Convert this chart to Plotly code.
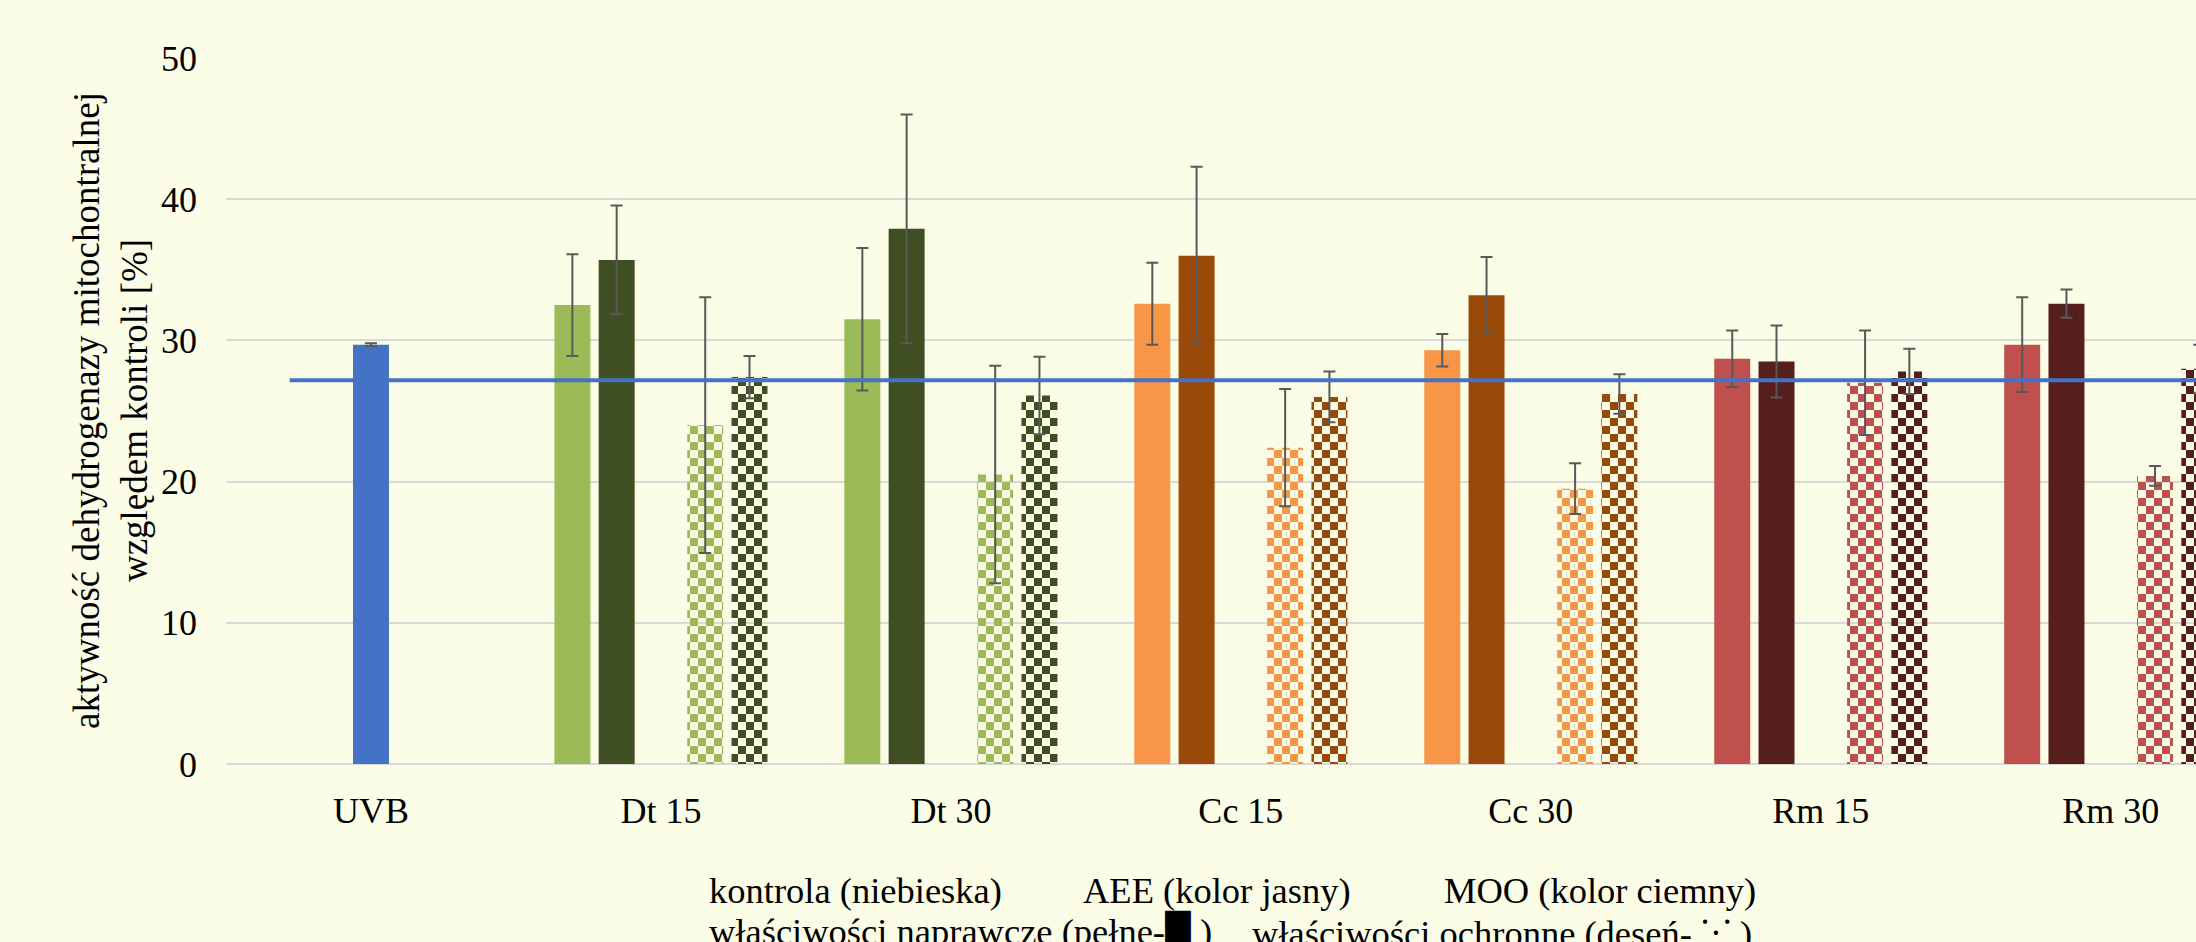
import plotly.graph_objects as go

# ---------------- data ----------------
categories = ["UVB", "Dt 15", "Dt 30", "Cc 15", "Cc 30", "Rm 15", "Rm 30"]

kontrola = [29.7, None, None, None, None, None, None]
kontrola_err = [0.1, None, None, None, None, None, None]

aee_naprawcze = [None, 32.5, 31.5, 32.6, 29.3, 28.7, 29.7]
aee_naprawcze_err = [None, 3.6, 5.05, 2.9, 1.15, 2.0, 3.35]

moo_naprawcze = [None, 35.7, 37.9, 36.0, 33.2, 28.5, 32.6]
moo_naprawcze_err = [None, 3.85, 8.1, 6.3, 2.7, 2.55, 1.0]

aee_ochronne = [None, 24.0, 20.5, 22.4, 19.5, 27.0, 20.4]
aee_ochronne_err = [None, 9.05, 7.7, 4.15, 1.8, 3.7, 0.7]

moo_ochronne = [None, 27.4, 26.1, 26.0, 26.2, 27.8, 28.0]
moo_ochronne_err = [None, 1.5, 2.75, 1.8, 1.4, 1.6, 1.7]

control_line_x = [-0.28, 6.6]
control_line_y = [27.17, 27.17]

y_ticks = [0, 10, 20, 30, 40, 50]

y_title = "aktywność dehydrogenazy mitochontralnej<br>względem kontroli [%]"
legend_line1 = ["kontrola (niebieska)", "AEE (kolor jasny)", "MOO (kolor ciemny)"]
legend_line2 = ["właściwości naprawcze (pełne-█ )", "właściwości ochronne (deseń- ⁙ )"]

# ---------------- style ----------------
FONT = "Liberation Serif, Times New Roman, serif"
BG = "#FCFDE7"
BLUE = "#4472C4"
light_cols = ["#9BBB59", "#9BBB59", "#9BBB59", "#F79646", "#F79646", "#C0504D", "#C0504D"]
dark_cols = ["#3F4F23", "#3F4F23", "#3F4F23", "#994A08", "#994A08", "#571E1E", "#571E1E"]
ERR = "#595959"

W, H = 2196, 942
L, R, T, B = 226, 0, 58, 178
PW, PH = W - L - R, H - T - B
x_range = [-0.5, 6.294]

slot = 0.1527
bw = 0.1241


def off(k):
    return k * slot - bw / 2


def err(a):
    return dict(type="data", array=a, color=ERR, thickness=2, width=6, visible=True)


def checker(cols):
    return dict(shape=".", size=16, solidity=0.5, fgcolor=cols, bgcolor="white",
                fillmode="replace", fgopacity=1)


fig = go.Figure()

fig.add_trace(go.Bar(x=categories, y=aee_naprawcze, error_y=err(aee_naprawcze_err),
                     marker=dict(color=light_cols, line=dict(width=0)),
                     width=bw, offset=off(-2), name="AEE naprawcze"))
fig.add_trace(go.Bar(x=categories, y=moo_naprawcze, error_y=err(moo_naprawcze_err),
                     marker=dict(color=dark_cols, line=dict(width=0)),
                     width=bw, offset=off(-1), name="MOO naprawcze"))
fig.add_trace(go.Bar(x=categories, y=aee_ochronne, error_y=err(aee_ochronne_err),
                     marker=dict(color=light_cols, line=dict(width=0), pattern=checker(light_cols)),
                     width=bw, offset=off(1), name="AEE ochronne"))
fig.add_trace(go.Bar(x=categories, y=moo_ochronne, error_y=err(moo_ochronne_err),
                     marker=dict(color=dark_cols, line=dict(width=0), pattern=checker(dark_cols)),
                     width=bw, offset=off(2), name="MOO ochronne"))

fig.add_trace(go.Scatter(x=control_line_x, y=control_line_y, mode="lines",
                         line=dict(color=BLUE, width=4), xaxis="x2", yaxis="y",
                         name="kontrola poziom"))

fig.add_trace(go.Bar(x=categories, y=kontrola, error_y=err(kontrola_err),
                     marker=dict(color=BLUE, line=dict(width=0)),
                     width=bw, offset=off(0), xaxis="x3", yaxis="y", name="kontrola"))


def px_x(p):
    return (p - L) / PW


def px_y(p):
    return (T + PH - p) / PH


annotations = [
    dict(text=y_title, textangle=-90, xref="paper", yref="paper",
         x=px_x(110), y=0.5, xanchor="center", yanchor="middle", showarrow=False,
         font=dict(family=FONT, size=37, color="black")),
]
for txt, xs in zip(legend_line1, [707, 1081, 1442]):
    annotations.append(dict(text=txt, xref="paper", yref="paper", x=px_x(xs), y=px_y(890),
                            xanchor="left", yanchor="middle", showarrow=False,
                            font=dict(family=FONT, size=36.5, color="black")))
for txt, xs in zip(legend_line2, [707, 1250]):
    annotations.append(dict(text=txt, xref="paper", yref="paper", x=px_x(xs), y=px_y(933),
                            xanchor="left", yanchor="middle", showarrow=False,
                            font=dict(family=FONT, size=36.5, color="black")))

fig.update_layout(
    width=W, height=H,
    margin=dict(l=L, r=R, t=T, b=B, pad=0),
    paper_bgcolor=BG, plot_bgcolor=BG,
    barmode="overlay",
    showlegend=False,
    font=dict(family=FONT, size=36, color="black"),
    xaxis=dict(type="category", categoryorder="array", categoryarray=categories,
               range=x_range, showgrid=False, zeroline=False, showline=False,
               ticks="", tickfont=dict(family=FONT, size=36, color="black"),
               ticklabelstandoff=22),
    xaxis2=dict(overlaying="x", anchor="y", type="linear", range=x_range, visible=False),
    xaxis3=dict(overlaying="x", anchor="y", type="category", categoryorder="array",
                categoryarray=categories, range=x_range, visible=False),
    yaxis=dict(range=[0, 50], tickvals=y_ticks, showgrid=True, gridcolor="#D9D9D9",
               gridwidth=2, zeroline=True, zerolinecolor="#D9D9D9", zerolinewidth=2,
               showline=False, ticks="", tickfont=dict(family=FONT, size=36, color="black"),
               ticklabelstandoff=28),
    annotations=annotations,
)

post = """
document.body.style.margin = '0';
document.body.style.padding = '0';
document.documentElement.style.overflow = 'hidden';
document.body.style.background = '#FCFDE7';
var gd = document.getElementById('{plot_id}');
function fixPatterns(){
  var ns = 'http://www.w3.org/2000/svg';
  gd.querySelectorAll('pattern').forEach(function(p){
    var c = p.querySelector('circle');
    if(!c) return;
    var col = c.getAttribute('fill') || c.style.fill;
    var s = parseFloat(p.getAttribute('width'));
    var h = s / 2;
    c.parentNode.removeChild(c);
    [[0,0],[h,h]].forEach(function(o){
      var r = document.createElementNS(ns, 'rect');
      r.setAttribute('x', o[0]); r.setAttribute('y', o[1]);
      r.setAttribute('width', h); r.setAttribute('height', h);
      r.setAttribute('fill', col);
      p.appendChild(r);
    });
  });
}
fixPatterns();
"""

fig.write_html("out.html", post_script=post, config={"displayModeBar": False})
